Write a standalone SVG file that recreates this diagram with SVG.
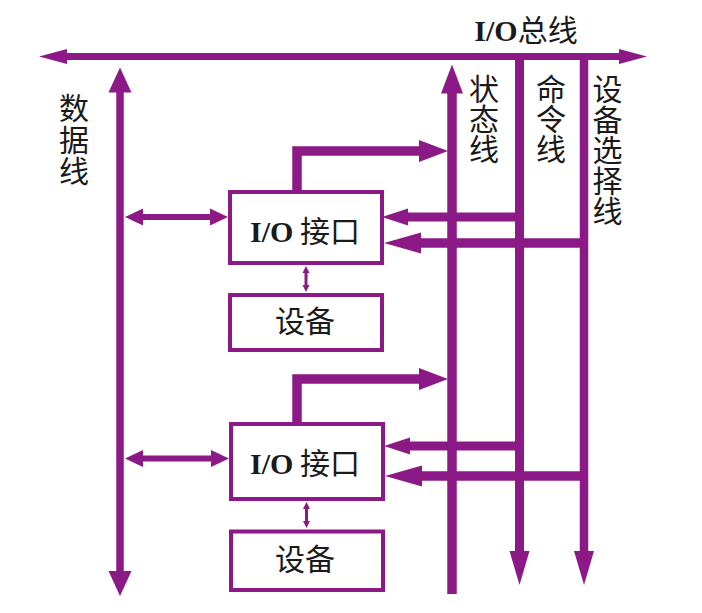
<svg xmlns="http://www.w3.org/2000/svg" width="702" height="613" viewBox="0 0 702 613">
<style>
.ln{fill:none;stroke:#8B1A87;stroke-linejoin:miter;stroke-linecap:butt}
.hd{fill:#8B1A87}
.box{fill:#ffffff;stroke:#8B1A87;stroke-width:4}
.t{font-family:"Noto Sans CJK SC","Liberation Serif",sans-serif;font-size:30px;fill:#1a1a1a;text-anchor:middle}
.b{font-family:"Liberation Serif",serif;font-weight:bold}
</style>
<defs>
<marker id="mBus" markerUnits="userSpaceOnUse" markerWidth="28" markerHeight="16" viewBox="0 -8 28 16" refX="1" refY="0" orient="auto-start-reverse"><path class="hd" d="M0,-7.5 L28,0 L0,7.5 Z"/></marker>
<marker id="mV" markerUnits="userSpaceOnUse" markerWidth="25" markerHeight="24" viewBox="0 -12 25 24" refX="1" refY="0" orient="auto-start-reverse"><path class="hd" d="M0,-11.5 L25,0 L0,11.5 Z"/></marker>
<marker id="mS" markerUnits="userSpaceOnUse" markerWidth="29" markerHeight="22" viewBox="0 -11 29 22" refX="1" refY="0" orient="auto-start-reverse"><path class="hd" d="M0,-11 L29,0 L0,11 Z"/></marker>
<marker id="mDn" markerUnits="userSpaceOnUse" markerWidth="34" markerHeight="22" viewBox="0 -11 34 22" refX="1" refY="0" orient="auto-start-reverse"><path class="hd" d="M0,-10 L34,0 L0,10 Z"/></marker>
<marker id="mC" markerUnits="userSpaceOnUse" markerWidth="26" markerHeight="18" viewBox="0 -9 26 18" refX="1" refY="0" orient="auto-start-reverse"><path class="hd" d="M0,-8.5 L26,0 L0,8.5 Z"/></marker>
<marker id="mD" markerUnits="userSpaceOnUse" markerWidth="37" markerHeight="22" viewBox="0 -11 37 22" refX="1" refY="0" orient="auto-start-reverse"><path class="hd" d="M0,-10.5 L37,0 L0,10.5 Z"/></marker>
<marker id="mSm" markerUnits="userSpaceOnUse" markerWidth="18" markerHeight="18" viewBox="0 -9 18 18" refX="1" refY="0" orient="auto-start-reverse"><path class="hd" d="M0,-8.5 L18,0 L0,8.5 Z"/></marker>
<marker id="mT" markerUnits="userSpaceOnUse" markerWidth="7" markerHeight="8" viewBox="0 -4 7 8" refX="1" refY="0" orient="auto-start-reverse"><path class="hd" d="M0,-3.5 L7,0 L0,3.5 Z"/></marker>
</defs>

<g id="connectors">
  <path class="ln" style="stroke-width:7" d="M66,56.5 H620" marker-start="url(#mBus)" marker-end="url(#mBus)"/>
  <path class="ln" style="stroke-width:7.5" d="M120,91.5 V572" marker-start="url(#mV)" marker-end="url(#mV)"/>
  <path class="ln" style="stroke-width:9.5" d="M452,92.5 V594" marker-start="url(#mS)"/>
  <path class="ln" style="stroke-width:9" d="M519.5,53 V552" marker-end="url(#mDn)"/>
  <path class="ln" style="stroke-width:8.5" d="M584,53 V552" marker-end="url(#mDn)"/>

  <path class="ln" style="stroke-width:9.5" d="M297,190 V151 H420" marker-end="url(#mS)"/>
  <path class="ln" style="stroke-width:9" d="M524,217 H407" marker-end="url(#mC)"/>
  <path class="ln" style="stroke-width:9.5" d="M588,243 H420" marker-end="url(#mD)"/>
  <path class="ln" style="stroke-width:6" d="M142,217 H211" marker-start="url(#mSm)" marker-end="url(#mSm)"/>
  <path class="ln" style="stroke-width:3" d="M306,272 V286" marker-start="url(#mT)" marker-end="url(#mT)"/>

  <path class="ln" style="stroke-width:9.5" d="M297,422 V379 H420" marker-end="url(#mS)"/>
  <path class="ln" style="stroke-width:9" d="M524,446 H409" marker-end="url(#mC)"/>
  <path class="ln" style="stroke-width:9.5" d="M588,476 H421" marker-end="url(#mD)"/>
  <path class="ln" style="stroke-width:6" d="M142,458.5 H212" marker-start="url(#mSm)" marker-end="url(#mSm)"/>
  <path class="ln" style="stroke-width:3" d="M306.5,508 V522" marker-start="url(#mT)" marker-end="url(#mT)"/>
</g>

<g id="bus-label">
  <text class="t" x="526" y="41"><tspan class="b">I/O</tspan>总线</text>
</g>
<g id="data-label">
  <text class="t" x="74"><tspan x="74" y="119">数</tspan><tspan x="74" y="151">据</tspan><tspan x="74" y="182">线</tspan></text>
</g>
<g id="status-label">
  <text class="t" x="484"><tspan x="484" y="100">状</tspan><tspan x="484" y="130">态</tspan><tspan x="484" y="160">线</tspan></text>
</g>
<g id="command-label">
  <text class="t" x="551"><tspan x="551" y="100">命</tspan><tspan x="551" y="130">令</tspan><tspan x="551" y="160">线</tspan></text>
</g>
<g id="select-label">
  <text class="t" x="607.5"><tspan x="607.5" y="100">设</tspan><tspan x="607.5" y="130.5">备</tspan><tspan x="607.5" y="161">选</tspan><tspan x="607.5" y="191.5">择</tspan><tspan x="607.5" y="222">线</tspan></text>
</g>

<g id="io1">
  <rect class="box" x="230" y="192" width="152" height="71"/>
  <text class="t" x="305" y="242"><tspan class="b">I/O</tspan> 接口</text>
</g>
<g id="dev1">
  <rect class="box" x="230" y="295" width="152" height="55"/>
  <text class="t" x="305" y="332">设备</text>
</g>
<g id="io2">
  <rect class="box" x="231" y="424" width="152" height="75"/>
  <text class="t" x="305" y="474"><tspan class="b">I/O</tspan> 接口</text>
</g>
<g id="dev2">
  <rect class="box" x="231" y="531.5" width="152" height="58.5"/>
  <text class="t" x="305" y="570">设备</text>
</g>
</svg>
